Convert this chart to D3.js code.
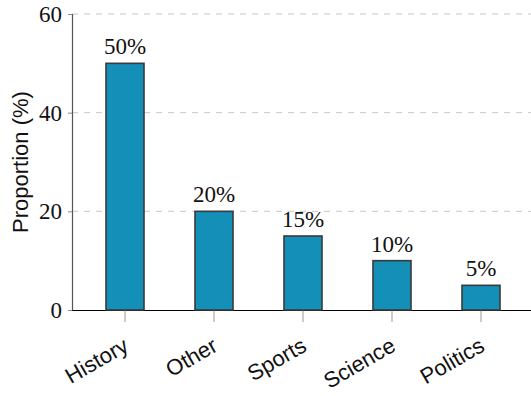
<!DOCTYPE html>
<html>
<head>
<meta charset="utf-8">
<script src="https://cdn.jsdelivr.net/npm/d3@7"></script>
<style>
  body { margin: 0; background: #fff; }
  svg { display: block; }
</style>
</head>
<body>
<div id="chart"></div>
<script>
var w = 531;
var h = 396;

var categories = ["History", "Other", "Sports", "Science", "Politics"];
var values = [50, 20, 15, 10, 5];
var yTicks = [0, 20, 40, 60];

var padL = 72, padR = 531, padT = 14, padB = 310;

var svg = d3.select("#chart")
    .append("svg")
    .attr("width", w)
    .attr("height", h);

// the band range runs a bit past the right edge, as in the original
var x = d3.scaleBand()
    .domain(categories)
    .range([padL, 534])
    .paddingInner(0.573)
    .paddingOuter(0.382);

var y = d3.scaleLinear()
    .domain([0, 60])
    .range([padB, padT]);

// dashed grid
svg.selectAll("line.grid")
    .data(yTicks.filter(function(d){ return d > 0; }))
    .enter()
    .append("line")
    .attr("class", "grid")
    .attr("x1", padL)
    .attr("x2", padR)
    .attr("y1", function(d){ return y(d); })
    .attr("y2", function(d){ return y(d); })
    .attr("stroke", "#c8c8c8")
    .attr("stroke-width", 1)
    .attr("stroke-dasharray", "6,6");

// y axis
var yAxis = svg.append("g")
    .attr("transform", "translate(" + padL + ",0)")
    .call(d3.axisLeft(y).tickValues(yTicks).tickSize(4).tickPadding(6));
yAxis.select(".domain").attr("stroke", "#555").attr("stroke-width", 1.2);
yAxis.selectAll(".tick line").attr("stroke", "#888");
yAxis.selectAll(".tick text")
    .attr("font-family", "Liberation Serif, DejaVu Serif, serif")
    .attr("font-size", "23px")
    .attr("fill", "#111");

// x axis
var xAxis = svg.append("g")
    .attr("transform", "translate(0," + padB + ")")
    .call(d3.axisBottom(x).tickSize(12).tickSizeOuter(0));
xAxis.select(".domain").attr("stroke", "#000").attr("stroke-width", 1.2);
xAxis.selectAll(".tick line").attr("stroke", "#aaa").attr("stroke-width", 1.2);
xAxis.selectAll(".tick text")
    .attr("font-family", "Liberation Sans, Arial, sans-serif")
    .attr("font-size", "22px")
    .attr("fill", "#111")
    .attr("text-anchor", "end")
    .attr("x", 0)
    .attr("y", 0)
    .attr("dy", 0)
    .attr("transform", "translate(5,40) rotate(-30)");

// bars
svg.selectAll("rect.bar")
    .data(values)
    .enter()
    .append("rect")
    .attr("class", "bar")
    .attr("x", function(d, i){ return x(categories[i]); })
    .attr("y", function(d){ return y(d); })
    .attr("width", x.bandwidth())
    .attr("height", function(d){ return y(0) - y(d); })
    .attr("fill", "#1490b8")
    .attr("stroke", "#3a3a3a")
    .attr("stroke-width", 1.6);

// value labels
svg.selectAll("text.val")
    .data(values)
    .enter()
    .append("text")
    .attr("class", "val")
    .text(function(d){ return d + "%"; })
    .attr("x", function(d, i){ return x(categories[i]) + x.bandwidth() / 2; })
    .attr("y", function(d){ return y(d) - 9; })
    .attr("text-anchor", "middle")
    .attr("font-family", "Liberation Serif, DejaVu Serif, serif")
    .attr("font-size", "23px")
    .attr("fill", "#111");

// y label
svg.append("text")
    .text("Proportion (%)")
    .attr("transform", "translate(28," + ((padT + padB) / 2) + ") rotate(-90)")
    .attr("text-anchor", "middle")
    .attr("font-family", "Liberation Sans, Arial, sans-serif")
    .attr("font-size", "22px")
    .attr("fill", "#111");
</script>
</body>
</html>
